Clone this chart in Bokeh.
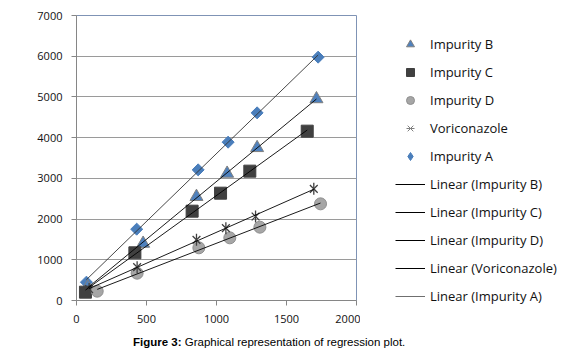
import numpy as np
from bokeh.plotting import figure
from bokeh.layouts import column, row
from bokeh.models import Legend, LegendItem, FixedTicker, Div, ColumnDataSource
from bokeh.embed import file_html
from bokeh.resources import INLINE

# ---- data ----
x_b = [80, 476, 857, 1076, 1290, 1714]
y_b = [330, 1400, 2550, 3120, 3750, 4950]
x_c = [64, 417, 826, 1029, 1238, 1648]
y_c = [205, 1171, 2194, 2636, 3177, 4159]
x_d = [148, 433, 874, 1095, 1310, 1743]
y_d = [229, 671, 1294, 1539, 1801, 2374]
x_v = [90, 433, 857, 1067, 1279, 1695]
y_v = [280, 819, 1490, 1777, 2063, 2743]
x_a = [71, 430, 869, 1083, 1290, 1726]
y_a = [450, 1752, 3209, 3889, 4609, 5977]

series_names = ["Impurity B", "Impurity C", "Impurity D", "Voriconazole", "Impurity A"]
x_ticks = [0, 500, 1000, 1500, 2000]
y_ticks = [0, 1000, 2000, 3000, 4000, 5000, 6000, 7000]
caption_bold = "Figure 3:"
caption_rest = "Graphical representation of regression plot."

FONT = "Open Sans"

# ---------------- main chart ----------------
p = figure(width=360, height=326, x_range=(0, 2000), y_range=(0, 7000),
           output_backend="svg", toolbar_location=None,
           min_border_left=76, min_border_right=4, min_border_top=15,
           min_border_bottom=26)
p.outline_line_color = "#7f93b5"
p.outline_line_width = 1
p.background_fill_color = "white"
p.border_fill_color = "white"

p.xgrid.visible = False
p.ygrid.grid_line_color = "#9a9a9a"
p.ygrid.grid_line_width = 1

for ax in (p.xaxis, p.yaxis):
    ax.axis_line_color = "#868686"
    ax.major_tick_line_color = "#868686"
    ax.major_tick_out = 5
    ax.major_tick_in = 0
    ax.minor_tick_line_color = None
    ax.major_label_text_font = FONT
    ax.major_label_text_font_size = "11px"
    ax.major_label_text_color = "#111111"
p.xaxis.ticker = FixedTicker(ticks=x_ticks)
p.yaxis.ticker = FixedTicker(ticks=y_ticks)
p.xaxis.major_label_standoff = 9
p.yaxis.major_label_standoff = 9

STY = {
    "a": dict(marker="square", angle=np.pi / 4, size=8.5,
              fill_color="#4a7ebb", line_color="#4a7ebb"),
    "b": dict(marker="triangle", size=13, fill_color="#4f81bd",
              line_color="#7f7f7f", line_width=1),
    "c": dict(marker="square", size=12, fill_color="#404040", line_color="#404040"),
    "d": dict(marker="circle", size=12, fill_color="#a6a6a6", line_color="#8f8f8f"),
    "v1": dict(marker="x", size=11, line_color="#404040", line_width=1.3),
    "v2": dict(marker="dash", angle=np.pi / 2, size=12, line_color="#404040",
               line_width=1.3),
}

# markers (draw order: A, B, C, D, V)
p.scatter(x_a, y_a, **STY["a"])
p.scatter(x_b, y_b, **STY["b"])
p.scatter(x_c, y_c, **STY["c"])
p.scatter(x_d, y_d, **STY["d"])
p.scatter(x_v, y_v, **STY["v1"])
p.scatter(x_v, y_v, **STY["v2"])

# linear trendlines computed from each series
def trend(xs, ys, color):
    k, b = np.polyfit(xs, ys, 1)
    xx = [min(xs), max(xs)]
    yy = [k * v + b for v in xx]
    p.line(xx, yy, line_color=color, line_width=0.9)

trend(x_b, y_b, "#000000")
trend(x_c, y_c, "#000000")
trend(x_d, y_d, "#000000")
trend(x_v, y_v, "#000000")
trend(x_a, y_a, "#333333")

# ---------------- legend panel ----------------
q = figure(width=204, height=326, x_range=(0, 1), y_range=(0, 1),
           output_backend="svg", toolbar_location=None,
           min_border_left=0, min_border_right=0, min_border_top=0,
           min_border_bottom=0)
q.axis.visible = False
q.grid.visible = False
q.outline_line_color = None
q.background_fill_color = "white"
q.border_fill_color = "white"

# legend-only renderers: one point each, placed outside the visible range
off = ColumnDataSource(data=dict(x=[-5], y=[-5]))
lg_b = q.scatter("x", "y", source=off, **STY["b"])
lg_c = q.scatter("x", "y", source=off, **STY["c"])
lg_d = q.scatter("x", "y", source=off, **STY["d"])
lg_v1 = q.scatter("x", "y", source=off, marker="x", size=8,
                  line_color="#7f7f7f", line_width=1)
lg_v2 = q.scatter("x", "y", source=off, marker="dash", angle=np.pi / 2, size=9,
                  line_color="#7f7f7f", line_width=1)
lg_a = q.scatter("x", "y", source=off, marker="diamond", size=12,
                 fill_color="#4a7ebb", line_color="#4a7ebb")
ln_b = q.line("x", "y", source=off, line_color="#000000", line_width=1)
ln_c = q.line("x", "y", source=off, line_color="#000000", line_width=1)
ln_d = q.line("x", "y", source=off, line_color="#000000", line_width=1)
ln_v = q.line("x", "y", source=off, line_color="#000000", line_width=1)
ln_a = q.line("x", "y", source=off, line_color="#6f6f6f", line_width=1)

marker_r = [[lg_b], [lg_c], [lg_d], [lg_v1, lg_v2], [lg_a]]
line_r = [[ln_b], [ln_c], [ln_d], [ln_v], [ln_a]]
items = [LegendItem(label=n, renderers=r) for n, r in zip(series_names, marker_r)]
items += [LegendItem(label=f"Linear ({n})", renderers=r)
          for n, r in zip(series_names, line_r)]

legend = Legend(items=items, location=(35, 20), orientation="vertical",
                glyph_width=30, glyph_height=20, label_height=20,
                label_standoff=5, spacing=8, padding=0, margin=0,
                border_line_color=None, background_fill_alpha=0,
                label_text_font=FONT, label_text_font_size="13px",
                label_text_color="#111111")
q.add_layout(legend)

caption = Div(
    text=f"<b>{caption_bold}</b> {caption_rest}",
    width=564, height=21, margin=(0, 0, 0, 0),
    styles={"font-family": "'Liberation Sans', Arial, sans-serif",
            "font-size": "11.5px", "color": "#000000",
            "padding-left": "133px", "padding-top": "10px",
            "line-height": "12px", "white-space": "nowrap"})

layout = column(row(p, column(q, spacing=0), spacing=0), caption, spacing=0)
open("out.html", "w").write(file_html(layout, INLINE))
